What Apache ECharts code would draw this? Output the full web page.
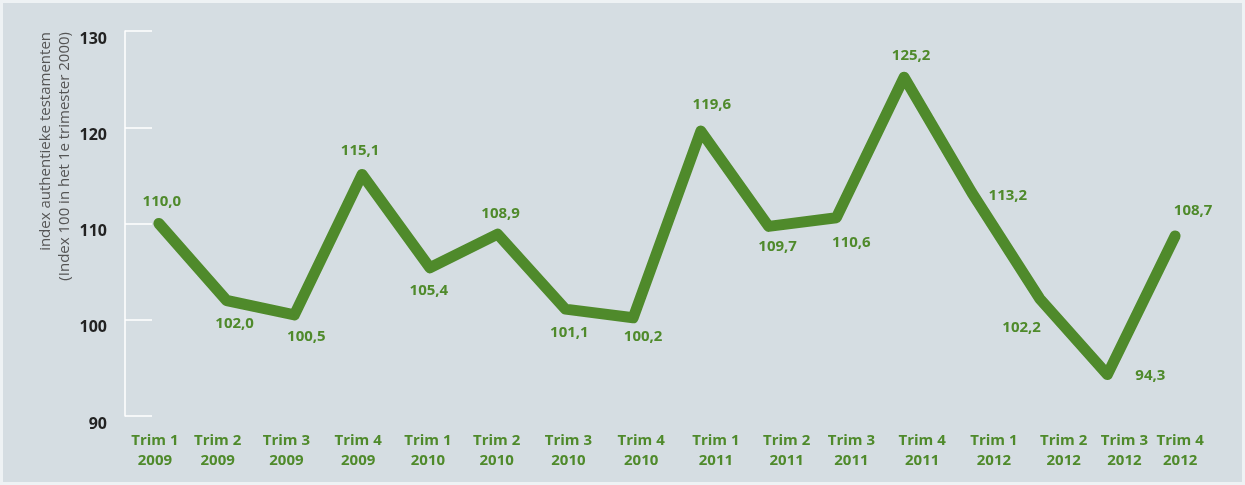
<!DOCTYPE html>
<html>
<head>
<meta charset="utf-8">
<script src="https://cdn.jsdelivr.net/npm/echarts@6/dist/echarts.min.js"></script>
<style>
    html, body { margin: 0; padding: 0; background: #eef2f4; }
    #chart { position: absolute; left: 3px; top: 3px; width: 1239px; height: 479px; }
</style>
</head>
<body>
<div id="chart"></div>
<script>
// kwartalen
const quarters = ["Trim 1", "Trim 2", "Trim 3", "Trim 4", "Trim 1", "Trim 2", "Trim 3", "Trim 4",
                  "Trim 1", "Trim 2", "Trim 3", "Trim 4", "Trim 1", "Trim 2", "Trim 3", "Trim 4"];
const years = ["2009", "2009", "2009", "2009", "2010", "2010", "2010", "2010",
               "2011", "2011", "2011", "2011", "2012", "2012", "2012", "2012"];
// index authentieke testamenten
const indexValues = [110.0, 102.0, 100.5, 115.1, 105.4, 108.9, 101.1, 100.2,
                     119.6, 109.7, 110.6, 125.2, 113.2, 102.2, 94.3, 108.7];
const yTicks = [90, 100, 110, 120, 130];

// plaatsing van de labels (stijl, geen data)
const valueLabelOffset = [[3, -22], [8, 23], [12, 22], [-2, -24], [-1, 23], [3, -20], [4, 24], [10, 19],
                          [11, -26], [9, 20], [15, 25], [7, -21], [36, 3], [-18, 29], [43, 1], [18, -25]];
const axisLabelShift = [-4, -9, -8, -4, -2, -1, 3, 8, 15, 18, 15, 18, 22, 24, 17, 5];

const green = "#4f8a2b";
const font = "Open Sans";
const categories = quarters.map((q, i) => q + "\n" + years[i]);

// rich-stijlen om elk aslabel een beetje te verschuiven
const rich = {};
axisLabelShift.forEach((s, i) => {
    rich["s" + i] = {
        color: green,
        fontWeight: "bold",
        fontSize: 15,
        fontFamily: font,
        lineHeight: 20,
        padding: s >= 0 ? [0, 0, 0, 2 * s] : [0, -2 * s, 0, 0]
    };
});

const chart = echarts.init(document.getElementById("chart"));
chart.setOption({
    backgroundColor: "#d5dde2",
    animation: false,
    grid: { left: 122, right: 33, top: 28, bottom: 66 },
    xAxis: {
        type: "category",
        data: categories,
        boundaryGap: true,
        axisLine: { show: false },
        axisTick: { show: false },
        axisLabel: {
            margin: 15,
            interval: 0,
            formatter: (value, i) => value.split("\n").map(l => "{s" + i + "|" + l + "}").join("\n"),
            rich: rich
        }
    },
    yAxis: {
        type: "value",
        min: yTicks[0],
        max: yTicks[yTicks.length - 1],
        interval: 10,
        splitLine: { show: false },
        axisLine: { show: true, lineStyle: { color: "#ffffff", width: 1.5 } },
        axisTick: { show: true, inside: true, length: 27, lineStyle: { color: "#ffffff", width: 1.5 } },
        axisLabel: {
            margin: 18,
            color: "#222222",
            fontWeight: "bold",
            fontSize: 16,
            fontFamily: font,
            verticalAlign: "top"
        }
    },
    graphic: [{
        type: "text",
        x: 52,
        y: 29,
        rotation: Math.PI / 2,
        style: {
            text: "index authentieke testamenten\n(Index 100 in het 1e trimester 2000)",
            fill: "#555555",
            font: "15px 'Open Sans'",
            lineHeight: 19,
            align: "right",
            verticalAlign: "middle"
        }
    }],
    series: [{
        type: "line",
        data: indexValues.map((v, i) => ({
            value: v,
            label: { offset: valueLabelOffset[i] }
        })),
        symbol: "circle",
        symbolSize: 1,
        showSymbol: true,
        itemStyle: { color: green },
        lineStyle: { color: green, width: 11, cap: "round", join: "round" },
        label: {
            show: true,
            position: "inside",
            color: green,
            fontWeight: "bold",
            fontSize: 15,
            fontFamily: font,
            formatter: p => p.value.toFixed(1).replace(".", ",")
        }
    }]
});
</script>
</body>
</html>
